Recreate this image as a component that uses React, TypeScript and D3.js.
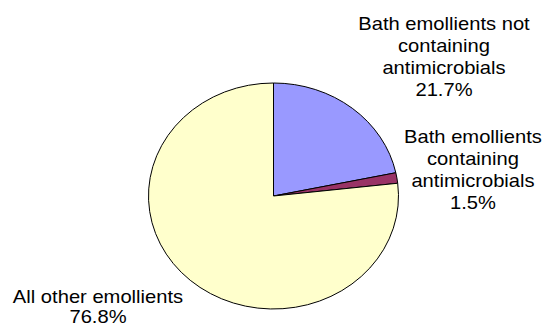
import { useEffect, useRef } from "react";
import * as d3 from "d3";

const categories = [
  ["Bath emollients not", "containing", "antimicrobials"],
  ["Bath emollients", "containing", "antimicrobials"],
  ["All other emollients"],
];
const values = [21.7, 1.5, 76.8];
const percentLabels = ["21.7%", "1.5%", "76.8%"];
const colors = ["#9999ff", "#993366", "#ffffcc"];

// where each label block sits (centre x, first baseline y, line step)
const labelPos = [
  [444, 30, 22],
  [473, 143, 22],
  [98, 303, 20],
];

export default function App() {
  const svgRef = useRef<SVGSVGElement>(null);

  useEffect(() => {
    const svg = d3.select(svgRef.current);
    svg.selectAll("*").remove();

    const cx = 273.5;
    const cy = 196;
    const rx = 125;
    const ry = 113;

    const pie = d3
      .pie<number>()
      .sort(null)
      .value((d) => d);
    const arc = d3.arc<d3.PieArcDatum<number>>().innerRadius(0).outerRadius(ry);

    const g = svg
      .append("g")
      .attr("transform", `translate(${cx},${cy}) scale(${rx / ry},1)`);

    g.selectAll("path")
      .data(pie(values))
      .enter()
      .append("path")
      .attr("d", arc)
      .attr("fill", (d, i) => colors[i])
      .attr("stroke", "#000")
      .attr("stroke-width", 1)
      .attr("vector-effect", "non-scaling-stroke");

    categories.forEach((lines, i) => {
      const all = [...lines, percentLabels[i]];
      const [x, y, step] = labelPos[i];
      const t = svg
        .append("g")
        .attr("transform", `translate(${x},${y}) scale(1.12,1)`)
        .append("text")
        .attr("text-anchor", "middle")
        .attr("font-family", "Arial, 'Liberation Sans', sans-serif")
        .attr("font-size", 18)
        .attr("fill", "#000");
      all.forEach((s, j) => {
        t.append("tspan").attr("x", 0).attr("y", j * step).text(s);
      });
    });
  }, []);

  return (
    <svg
      ref={svgRef}
      width={544}
      height={329}
      style={{ position: "absolute", left: 0, top: 0, background: "#fff" }}
    />
  );
}
